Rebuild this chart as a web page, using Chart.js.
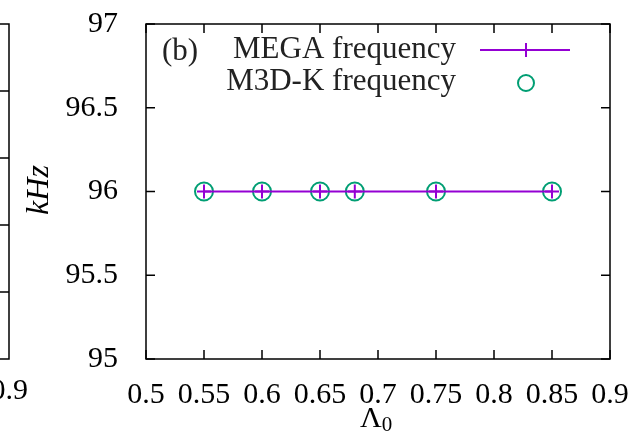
<!DOCTYPE html>
<html>
<head>
<meta charset="utf-8">
<script src="https://cdn.jsdelivr.net/npm/chart.js@4.4.0/dist/chart.umd.min.js"></script>
<style>
  body { margin: 0; background: #fff; }
  canvas { display: block; }
</style>
</head>
<body>
<canvas id="freqChart" width="636" height="434"></canvas>
<script>
// values
const lambdaValues = [0.55, 0.6, 0.65, 0.68, 0.75, 0.85];
const megaFreq = [96, 96, 96, 96, 96, 96];
const m3dkFreq = [96, 96, 96, 96, 96, 96];
const xTicks = [0.5, 0.55, 0.6, 0.65, 0.7, 0.75, 0.8, 0.85, 0.9];
const yTicks = [95, 95.5, 96, 96.5, 97];

const purple = '#9400d3';
const green = '#009e73';
const serif = '"Liberation Serif", "DejaVu Serif", serif';

// gnuplot style frame, inward ticks, legend, axis titles
const framePlugin = {
    id: 'frame',
    afterDraw(chart) {
        const ctx = chart.ctx;
        const a = chart.chartArea;
        const xs = chart.scales.x, ys = chart.scales.y;
        const tl = 9;
        ctx.save();
        ctx.strokeStyle = '#000';
        ctx.lineWidth = 1.5;
        ctx.strokeRect(a.left, a.top, a.right - a.left, a.bottom - a.top);
        ctx.beginPath();
        xTicks.forEach(v => {
            let px = xs.getPixelForValue(v);
            ctx.moveTo(px, a.bottom); ctx.lineTo(px, a.bottom - tl);
            ctx.moveTo(px, a.top); ctx.lineTo(px, a.top + tl);
        });
        yTicks.forEach(v => {
            let py = ys.getPixelForValue(v);
            ctx.moveTo(a.left, py); ctx.lineTo(a.left + tl, py);
            ctx.moveTo(a.right, py); ctx.lineTo(a.right - tl, py);
        });
        ctx.stroke();

        // right edge of the neighbouring panel (a)
        let edge = 9;
        ctx.beginPath();
        ctx.moveTo(0, a.top); ctx.lineTo(edge, a.top); ctx.lineTo(edge, a.bottom); ctx.lineTo(0, a.bottom);
        for (let i = 1; i < 5; i++) {
            let py = a.top + (a.bottom - a.top) * i / 5;
            ctx.moveTo(edge, py); ctx.lineTo(0, py);
        }
        ctx.stroke();
        ctx.fillStyle = '#000';
        ctx.font = '30px ' + serif;
        ctx.textAlign = 'right';
        ctx.textBaseline = 'middle';
        ctx.fillText('0.9', 28, 391);

        // axis titles
        ctx.textAlign = 'center';
        ctx.font = '30px ' + serif;
        let cx = (a.left + a.right) / 2;
        ctx.fillText('\u039B', cx - 7, 419);
        ctx.font = '21px ' + serif;
        ctx.fillText('0', cx + 9, 425);

        ctx.save();
        ctx.translate(40, 190);
        ctx.rotate(-Math.PI / 2);
        ctx.font = 'italic 32px ' + serif;
        ctx.fillText('kHz', 0, 0);
        ctx.restore();

        // legend
        ctx.font = '31px ' + serif;
        ctx.textAlign = 'left';
        ctx.fillStyle = '#222';
        ctx.fillText('(b)', 162, 52);
        ctx.textAlign = 'right';
        ctx.fillText('MEGA frequency', 456, 50);
        ctx.fillText('M3D-K frequency', 456, 82);

        ctx.strokeStyle = purple;
        ctx.lineWidth = 2;
        ctx.beginPath();
        ctx.moveTo(480, 50); ctx.lineTo(570, 50);
        ctx.moveTo(526, 43); ctx.lineTo(526, 57);
        ctx.stroke();
        ctx.strokeStyle = green;
        ctx.beginPath();
        ctx.arc(526, 83, 8, 0, Math.PI * 2);
        ctx.stroke();
        ctx.restore();
    }
};

function noPad(s) {
    s.paddingLeft = 0; s.paddingRight = 0; s.paddingTop = 0; s.paddingBottom = 0;
}

const ctx = document.getElementById('freqChart').getContext('2d');
new Chart(ctx, {
    type: 'scatter',
    data: {
        datasets: [{
            label: 'MEGA frequency',
            data: lambdaValues.map((x, i) => ({ x: x, y: megaFreq[i] })),
            showLine: true,
            borderColor: purple,
            backgroundColor: purple,
            borderWidth: 2,
            pointStyle: 'cross',
            pointRadius: 7,
            pointBorderWidth: 2
        }, {
            label: 'M3D-K frequency',
            data: lambdaValues.map((x, i) => ({ x: x, y: m3dkFreq[i] })),
            showLine: false,
            borderColor: green,
            backgroundColor: 'rgba(0,0,0,0)',
            pointStyle: 'circle',
            pointRadius: 9,
            pointBorderWidth: 2
        }]
    },
    options: {
        responsive: false,
        animation: false,
        layout: { padding: { left: 0, top: 24, right: 26, bottom: 0 } },
        plugins: { legend: { display: false }, tooltip: { enabled: false } },
        scales: {
            x: {
                type: 'linear',
                min: 0.5,
                max: 0.9,
                afterFit: s => { s.height = 75; noPad(s); },
                afterBuildTicks: s => { s.ticks = xTicks.map(v => ({ value: v })); },
                grid: { display: false },
                border: { display: false },
                ticks: {
                    color: '#000',
                    padding: 10,
                    maxRotation: 0,
                    autoSkip: false,
                    font: { family: serif, size: 30 },
                    callback: v => String(Number(v.toFixed(2)))
                }
            },
            y: {
                min: 95,
                max: 97,
                afterFit: s => { s.width = 146; noPad(s); },
                afterBuildTicks: s => { s.ticks = yTicks.map(v => ({ value: v })); },
                grid: { display: false },
                border: { display: false },
                ticks: {
                    color: '#000',
                    padding: 20,
                    font: { family: serif, size: 30 },
                    callback: v => String(v)
                }
            }
        }
    },
    plugins: [framePlugin]
});
</script>
</body>
</html>
